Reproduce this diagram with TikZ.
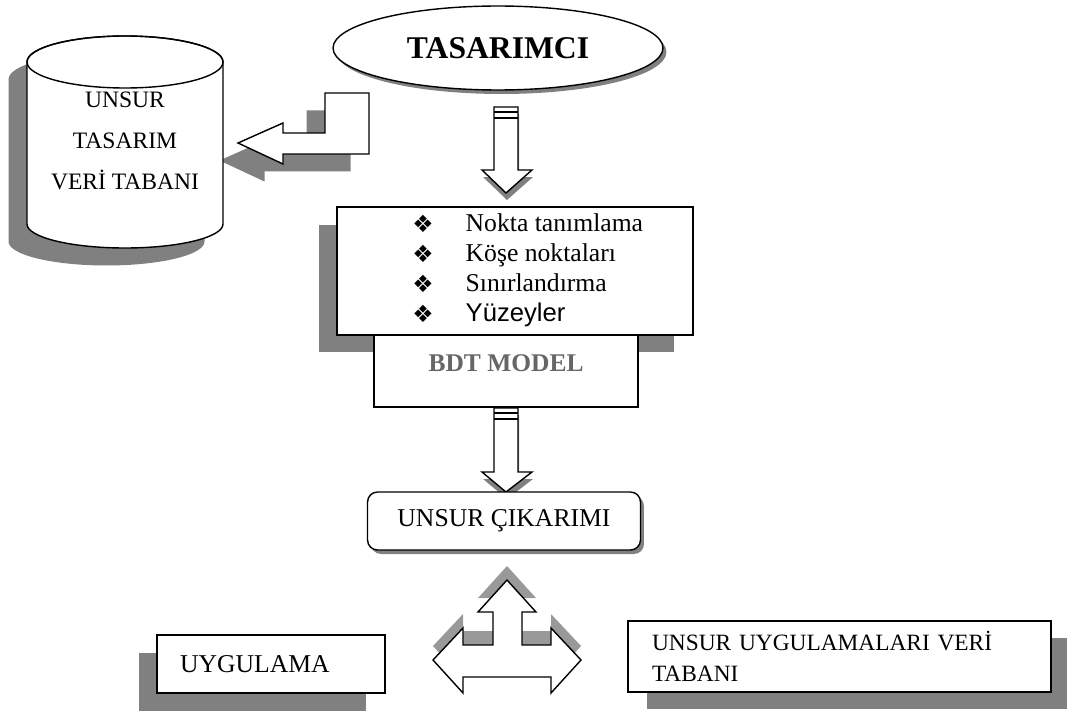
\documentclass[tikz,border=0pt]{standalone}
\usepackage{fontspec}
\setmainfont{Liberation Serif}
\newfontfamily\arialfont{Liberation Sans}
\newfontfamily\symfont{DejaVu Sans}
\usetikzlibrary{shapes.geometric,shadows}

\begin{document}
\begin{tikzpicture}[x=0.02cm, y=-0.02cm, line width=0.8pt,
  box/.style={draw, fill=white, rectangle, inner sep=0pt},
  txt/.style={font=\fontsize{14.6}{17}\selectfont},
  shadowleft/.style={drop shadow={shadow xshift=-0.37cm, shadow yshift=-0.35cm, fill=gray, opacity=1}},
  shadowright/.style={drop shadow={shadow xshift=0.38cm, shadow yshift=-0.34cm, fill=gray, opacity=1}},
  shadowsmall/.style={drop shadow={shadow xshift=0.07cm, shadow yshift=-0.08cm, fill=gray, opacity=1}},
  shadowdown/.style={drop shadow={shadow xshift=0.02cm, shadow yshift=-0.14cm, fill=gray, opacity=1}},
  shadowup/.style={drop shadow={shadow xshift=0cm, shadow yshift=0.28cm, fill=black!40, opacity=1}}]
  \useasboundingbox (0,0) rectangle (1067,713);

  % bent arrow into the database
  \draw[fill=white, shadowleft] (238,143) -- (283,123) -- (283,133) -- (325,133) -- (325,93)
    -- (369,93) -- (369,154) -- (283,154) -- (283,164) -- cycle;

  % database cylinder
  \draw[fill=white, shadowleft] (27,62) -- (27,224)
    arc[start angle=180, end angle=0, x radius=98, y radius=24] -- (223,62)
    arc[start angle=0, end angle=-180, x radius=98, y radius=26] -- cycle;
  \draw (125,62) ellipse [x radius=98, y radius=26];
  \node[font=\fontsize{13.4}{23.3}\selectfont, align=center] (db) at (125,141) {UNSUR\\TASARIM\\VERİ TABANI};

  \node[ellipse, draw, fill=white, shadowsmall, minimum width=6.6cm, minimum height=1.68cm,
    inner sep=0pt, font=\fontsize{18}{20}\selectfont\bfseries] (tas) at (498,48) {TASARIMCI};

  % down arrows
  \foreach \t/\b/\e in {107/170/193, 408/472/492} {
    \draw[fill=white, shadowdown] (494,\t) -- (494,\b) -- (482,\b) -- (506,\e) -- (532,\b)
      -- (518,\b) -- (518,\t) -- cycle;
    \draw (494,\t+5) -- (518,\t+5) (494,\t+11) -- (518,\t+11);
  }

  \node[box, shadowleft, minimum width=7.12cm, minimum height=2.56cm] (feat) at (515,271) {};
  \foreach \i/\t in {1/Nokta tanımlama, 2/Köşe noktaları, 3/Sınırlandırma, 4/{\arialfont Yüzeyler}} {
    \node[font=\symfont\fontsize{13.5}{13.5}\selectfont, inner sep=0pt, anchor=base] (d\i) at (423,202+30*\i) {❖};
    \node[txt, anchor=base west, inner sep=0pt] (f\i) at (465,201+30*\i) {\t};
  }

  \node[box, minimum width=5.28cm, minimum height=1.44cm, text depth=9pt,
    font=\fontsize{14.5}{16}\selectfont\bfseries, text=black!60] (bdt) at (506,371) {BDT MODEL};

  \node[box, rounded corners=0.2cm, shadowsmall, minimum width=5.46cm, minimum height=1.16cm, txt]
    (cik) at (504,521) {UNSUR ÇIKARIMI};

  % three-way arrow
  \draw[fill=white, shadowup] (507,580) -- (536,612) -- (522,612) -- (522,645) -- (551,645)
    -- (551,628) -- (581,660) -- (551,693) -- (551,677) -- (463,677) -- (463,693) -- (433,660)
    -- (463,628) -- (463,645) -- (493,645) -- (493,612) -- (478,612) -- cycle;

  \node[box, shadowleft, minimum width=4.56cm, minimum height=1.16cm, txt,
    inner xsep=0.46cm, text width=3.64cm, align=left] (uyg) at (271,664) {UYGULAMA};

  \node[box, shadowright, minimum width=8.46cm, minimum height=1.42cm,
    font=\fontsize{13.3}{18}\selectfont, inner xsep=0.48cm, text width=7.5cm, align=left]
    (vt) at (839.5,656.5) {UNSUR UYGULAMALARI VERİ\\TABANI};
\end{tikzpicture}
\end{document}
